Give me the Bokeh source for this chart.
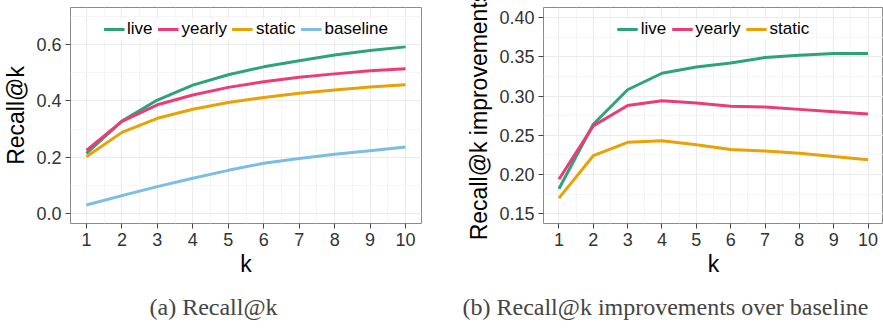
from bokeh.plotting import figure
from bokeh.models import (FixedTicker, PrintfTickFormatter, Legend, LegendItem, Range1d, Title)
from bokeh.layouts import row
from bokeh.embed import file_html
from bokeh.resources import INLINE

k = [1, 2, 3, 4, 5, 6, 7, 8, 9, 10]

# (a) Recall@k
recall_live = [0.213, 0.328, 0.403, 0.456, 0.493, 0.521, 0.543, 0.563, 0.579, 0.592]
recall_yearly = [0.224, 0.327, 0.386, 0.421, 0.448, 0.468, 0.484, 0.496, 0.507, 0.514]
recall_static = [0.201, 0.288, 0.338, 0.370, 0.394, 0.412, 0.427, 0.439, 0.449, 0.457]
recall_baseline = [0.030, 0.063, 0.095, 0.125, 0.153, 0.178, 0.195, 0.210, 0.223, 0.236]

# (b) Recall@k improvements over baseline
impr_live = [0.182, 0.264, 0.308, 0.329, 0.337, 0.342, 0.349, 0.352, 0.354, 0.354]
impr_yearly = [0.194, 0.262, 0.288, 0.294, 0.291, 0.287, 0.286, 0.283, 0.280, 0.277]
impr_static = [0.170, 0.224, 0.241, 0.243, 0.238, 0.232, 0.230, 0.227, 0.223, 0.219]

series_names_a = ["live", "yearly", "static", "baseline"]
series_names_b = ["live", "yearly", "static"]
colors = {"live": "#2CA37A", "yearly": "#EE3B76", "static": "#E9A103", "baseline": "#7CBDE5"}

caption_a = "(a) Recall@k"
caption_b = "(b) Recall@k improvements over baseline"

SANS = "Liberation Sans"
SERIF = "Liberation Serif"


def style(p, yticks, yminor, fmt, ylabel):
    p.x_range = Range1d(0.55, 10.45)
    p.xaxis.ticker = FixedTicker(ticks=k, minor_ticks=[x + 0.5 for x in k[:-1]])
    p.yaxis.ticker = FixedTicker(ticks=yticks, minor_ticks=yminor)
    p.yaxis.formatter = PrintfTickFormatter(format=fmt)
    for ax in (p.xaxis, p.yaxis):
        ax.axis_line_color = None
        ax.major_tick_line_color = "#444444"
        ax.major_tick_out = 5
        ax.major_tick_in = 0
        ax.minor_tick_line_color = None
        ax.major_label_text_font = SANS
        ax.major_label_text_font_size = "18px"
        ax.major_label_text_color = "#333333"
        ax.axis_label_text_font = SANS
        ax.axis_label_text_font_size = "23px"
        ax.axis_label_text_font_style = "normal"
        ax.axis_label_text_color = "#000000"
        ax.major_label_standoff = 4
    p.xaxis.axis_label = "k"
    p.xaxis.axis_label_standoff = 2
    p.yaxis.axis_label = ylabel
    p.yaxis.axis_label_standoff = 4
    p.xgrid.grid_line_color = "#EBEBEB"
    p.ygrid.grid_line_color = "#EBEBEB"
    p.xgrid.minor_grid_line_color = "#F5F5F5"
    p.ygrid.minor_grid_line_color = "#F5F5F5"
    p.outline_line_color = "#8A8A8A"
    p.outline_line_width = 1
    p.background_fill_color = "white"
    p.border_fill_color = "white"


def add_lines(p, names, data):
    items = []
    for name in names:
        box = p.rect(x=[], y=[], width=1, height=1, fill_color="white", line_color="#D0D0D0")
        ln = p.line(k, data[name], line_color=colors[name], line_width=3)
        items.append(LegendItem(label=name, renderers=[box, ln]))
    leg = Legend(items=items, orientation="horizontal", location="top_center")
    leg.label_text_font = SANS
    leg.label_text_font_size = "17px"
    leg.label_text_color = "#000000"
    leg.glyph_width = 21
    leg.glyph_height = 20
    leg.label_standoff = 3
    leg.spacing = 5
    leg.padding = 2
    leg.margin = 12
    leg.border_line_color = None
    leg.background_fill_color = "white"
    leg.background_fill_alpha = 1.0
    leg.label_height = 20
    p.add_layout(leg)


def add_caption(p, text, xoff):
    p.add_layout(Title(text=text, align="left", offset=xoff, text_font=SERIF,
                       text_font_size="24px", text_font_style="normal", standoff=24), "below")


p1 = figure(width=440, height=332, output_backend="svg", toolbar_location=None,
            min_border_left=69, min_border_right=19, min_border_top=7, min_border_bottom=109,
            y_range=Range1d(-0.036, 0.732))
style(p1, [0.0, 0.2, 0.4, 0.6], [0.1, 0.3, 0.5, 0.7], "%.1f", "Recall@k")
add_lines(p1, series_names_a, {"live": recall_live, "yearly": recall_yearly,
                               "static": recall_static, "baseline": recall_baseline})
add_caption(p1, caption_a, 79)

p2 = figure(width=443, height=332, output_backend="svg", toolbar_location=None,
            min_border_left=103, min_border_right=0, min_border_top=7, min_border_bottom=109,
            y_range=Range1d(0.1377, 0.4127))
style(p2, [0.15, 0.20, 0.25, 0.30, 0.35, 0.40], [0.175, 0.225, 0.275, 0.325, 0.375], "%.2f",
      "Recall@k improvements")
add_lines(p2, series_names_b, {"live": impr_live, "yearly": impr_yearly, "static": impr_static})
add_caption(p2, caption_b, -81)

layout = row(p1, p2, spacing=0)
open("out.html", "w").write(file_html(layout, INLINE))
